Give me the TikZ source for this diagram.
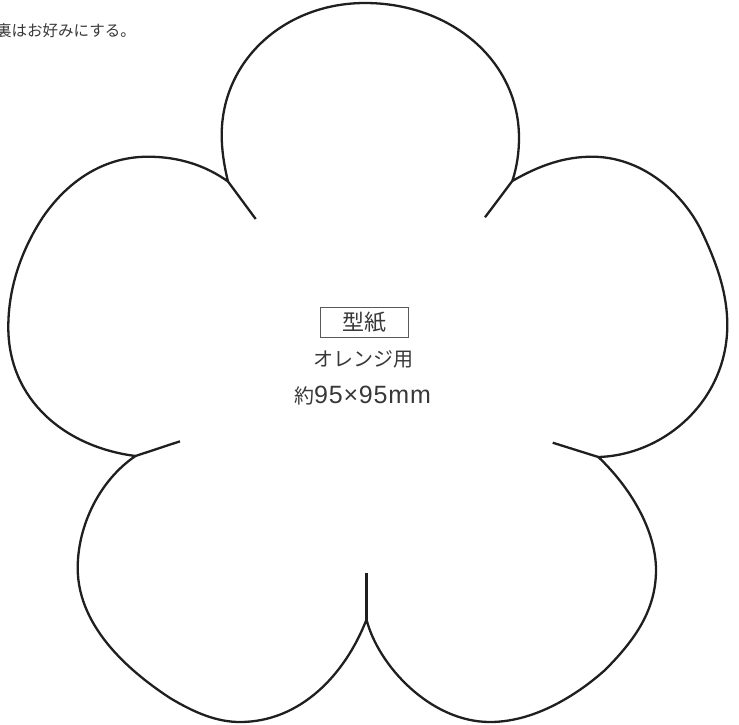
\documentclass[tikz,border=0pt]{standalone}
\usepackage{fontspec}
\setmainfont{Noto Sans CJK JP}
\newfontfamily\latinfont[LetterSpace=3.4]{Liberation Sans}
\begin{document}
\begin{tikzpicture}[x=1pt,y=-1pt,
  petal/.style={draw=black!88,line width=2.3pt,line join=round},
  stub/.style={draw=black!88,line width=2.3pt,line cap=butt},
  lbl/.style={inner sep=0pt,text=black!78}]
\useasboundingbox (0,0) rectangle (739,724);
\coordinate (a) at (228,181.5);
\coordinate (b) at (512.3,181);
\coordinate (c) at (598.3,457);
\coordinate (d) at (366.5,619.5);
\coordinate (e) at (135.5,456);
\coordinate (a1) at (255.7,219);
\coordinate (b1) at (485,217.3);
\coordinate (c1) at (552.7,442.7);
\coordinate (d1) at (366.5,573);
\coordinate (e1) at (180,441.3);
\draw[petal] (a) .. controls (224,165) and (221.7,150) .. (221.7,135)
  .. controls (221.7,60) and (285,3) .. (365,3)
  .. controls (450,3) and (519,60) .. (519,138)
  .. controls (519,152) and (517,167) .. (b)
  .. controls (540,165) and (565,156.7) .. (592,156.7)
  .. controls (640,156.7) and (680,190) .. (700,228)
  .. controls (718,265) and (727.3,295) .. (727.3,325)
  .. controls (727.3,400) and (665,455) .. (c)
  .. controls (630,487) and (656,530) .. (656,570)
  .. controls (656,610) and (635,640) .. (605,670)
  .. controls (585,688) and (540,722) .. (490,722)
  .. controls (430,722) and (378,665) .. (d)
  .. controls (345,675) and (300,722) .. (240,722)
  .. controls (217,722) and (195,713) .. (170,698)
  .. controls (135,675) and (77.7,630) .. (77.7,568)
  .. controls (77.7,525) and (100,480) .. (e)
  .. controls (65,447) and (8.3,400) .. (8.3,327)
  .. controls (8.3,290) and (20,252) .. (43,217)
  .. controls (65,185) and (100,156.7) .. (148,156.7)
  .. controls (178,156.7) and (205,165) .. (a);
\draw[stub] (a) -- (a1);
\draw[stub] (b) -- (b1);
\draw[stub] (c) -- (c1);
\draw[stub,line width=2.9pt] (d) -- (d1);
\draw[stub] (e) -- (e1);
\node[lbl,anchor=west,font=\fontsize{15.5}{17}\selectfont] (note) at (-4,30.5) {裏はお好みにする。};
\node[draw=black!65,line width=0.7pt,minimum width=87.3pt,minimum height=30.4pt,inner sep=0pt,text=black!78,font=\fontsize{22}{24}\selectfont] (box) at (364.4,322.5) {型紙};
\node[lbl,font=\fontsize{20}{22}\selectfont] (t1) at (363.5,359) {オレンジ用};
\node[lbl,font=\fontsize{20}{22}\selectfont] (t2) at (362.5,396) {約{\latinfont\fontsize{25}{27}\selectfont 95×95mm}};
\end{tikzpicture}
\end{document}
